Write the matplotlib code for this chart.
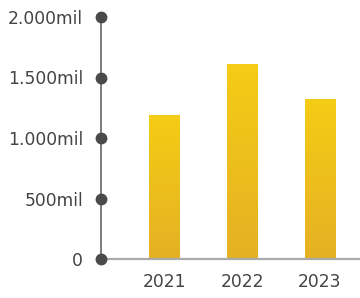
import numpy as np
import matplotlib
matplotlib.use("Agg")
import matplotlib.pyplot as plt
from matplotlib.colors import LinearSegmentedColormap

years = ["2021", "2022", "2023"]
values = [1190, 1612, 1322]
yticks = [0, 500, 1000, 1500, 2000]
ylabels = ["0", "500mil", "1.000mil", "1.500mil", "2.000mil"]

fig = plt.figure(figsize=(3.6, 2.98), dpi=100)
ax = fig.add_axes([101/360, 39/298, 259/360, 242/298])

x = np.arange(len(years))
bars = ax.bar(x, values, width=0.39, color="none", edgecolor="none", zorder=2)

# vertical gradient inside each bar
cmap = LinearSegmentedColormap.from_list("gold", ["#e5b124", "#f5cc15"])
grad = np.linspace(0, 1, 256).reshape(-1, 1)
for b in bars:
    x0, y0 = b.get_x(), b.get_y()
    w, h = b.get_width(), b.get_height()
    im = ax.imshow(grad, cmap=cmap, origin="lower", aspect="auto",
                   extent=[x0, x0 + w, y0, y0 + h], zorder=2)
    im.set_clip_path(b)

ax.set_xlim(-0.82, 2.52)
ax.set_ylim(0, 2000)

for s in ["top", "right"]:
    ax.spines[s].set_visible(False)
ax.spines["left"].set_color("#666666")
ax.spines["left"].set_linewidth(1.2)
ax.spines["bottom"].set_color("#aaaaaa")
ax.spines["bottom"].set_linewidth(1.6)

ax.plot(np.zeros(len(yticks)), yticks, "o", color="#4a4a4a", markersize=7.5,
        clip_on=False, zorder=5, transform=ax.get_yaxis_transform())

ax.set_yticks(yticks)
ax.set_yticklabels(ylabels)
ax.set_xticks(x)
ax.set_xticklabels(years)
ax.tick_params(axis="y", length=0, pad=13, labelsize=12.3, labelcolor="#444444")
ax.tick_params(axis="x", length=0, pad=10, labelsize=12.3, labelcolor="#444444")

fig.savefig("out.png", dpi=100)
